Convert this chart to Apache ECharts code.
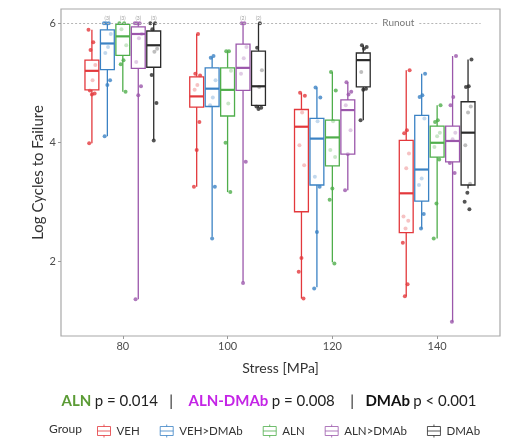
<!DOCTYPE html>
<html lang="en">
<head>
    <meta charset="UTF-8">
    <title>Cycles to failure</title>
    <script src="https://cdn.jsdelivr.net/npm/echarts@6/dist/echarts.min.js"></script>
</head>
<body style="margin:0;background:#fff">
<div id="main" style="width: 513px; height: 439px;"></div>
</body>
<script>
    // ---- data ----
    var stressLevels = [80, 100, 120, 140]
    var groupNames = ['VEH', 'VEH>DMAb', 'ALN', 'ALN>DMAb', 'DMAb']
    var yTicks = [2, 4, 6]

    // box stats per stress: [whisker low, q1, median, q3, whisker high]
    var vehBox = [[3.98, 4.88, 5.20, 5.38, 5.89], [3.25, 4.59, 4.77, 5.10, 5.82], [1.37, 2.83, 4.26, 4.55, 4.83], [1.41, 2.48, 3.14, 4.03, 5.21]]
    var vehDmabBox = [[4.10, 5.22, 5.66, 5.89, 6.0], [2.41, 4.60, 4.90, 5.25, 5.43], [1.56, 3.28, 4.06, 4.40, 4.92], [2.55, 3.01, 3.54, 4.45, 5.15]]
    var alnBox = [[4.85, 5.46, 5.78, 5.98, 6.0], [3.16, 4.44, 4.88, 5.25, 5.53], [1.98, 3.60, 4.08, 4.37, 5.18], [2.38, 3.75, 3.99, 4.27, 4.62]]
    var alnDmabBox = [[1.36, 5.24, 5.82, 5.94, 6.0], [1.65, 4.87, 5.25, 5.65, 6.0], [3.19, 3.80, 4.54, 4.71, 5.01], [0.98, 3.67, 4.02, 4.27, 5.45]]
    var dmabBox = [[4.04, 5.26, 5.63, 5.87, 6.0], [4.58, 4.62, 4.94, 5.53, 6.0], [4.37, 4.93, 5.38, 5.50, 5.63], [3.22, 3.28, 4.16, 4.68, 5.39]]

    // individual specimens (log cycles) per stress
    var vehPts = [[5.89, 5.68, 5.55, 5.30, 5.04, 4.87, 4.82, 4.80, 3.98], [5.82, 5.15, 5.12, 4.96, 4.88, 4.34, 3.87, 3.25], [4.83, 4.78, 4.50, 3.95, 3.61, 2.05, 1.82, 1.37], [5.21, 4.20, 4.15, 3.81, 3.56, 2.75, 2.68, 2.55, 2.31, 1.61, 1.41]]
    var vehDmabPts = [[6.0, 6.0, 6.0, 5.82, 5.60, 5.50, 5.04, 4.96, 4.10], [5.45, 5.42, 5.04, 4.75, 4.62, 3.25, 2.38], [4.92, 4.75, 4.35, 3.42, 3.25, 2.49, 1.54], [5.15, 4.79, 4.76, 4.40, 3.39, 3.28, 2.79, 2.55]]
    var alnPts = [[6.0, 6.0, 5.90, 5.63, 5.38, 5.31, 4.85], [5.53, 5.53, 5.20, 4.65, 3.99, 3.16], [5.18, 4.87, 4.35, 3.87, 3.75, 3.22, 3.03, 1.96], [4.62, 4.37, 4.34, 4.16, 4.10, 3.92, 3.71, 2.97, 2.38]]
    var alnDmabPts = [[6.0, 6.0, 6.0, 5.82, 5.75, 5.35, 4.94, 4.79, 1.36], [6.0, 6.0, 5.60, 5.41, 5.15, 3.67, 1.63], [5.01, 4.85, 4.80, 4.62, 4.20, 3.80, 3.19], [5.45, 4.76, 4.62, 4.16, 4.05, 3.65, 3.48, 0.98]]
    var dmabPts = [[6.0, 6.0, 5.90, 5.57, 5.52, 5.13, 4.66, 4.03], [6.0, 5.59, 5.21, 4.93, 4.60, 4.58, 4.56], [5.63, 5.60, 5.57, 5.18, 4.90, 4.88, 4.37], [5.39, 4.94, 4.93, 4.60, 4.50, 3.95, 3.30, 3.15, 3.00, 2.87]]

    // runout counts shown above boxes (null = none)
    var runoutCounts = [
        [null, null, null, null],
        ['(3)', null, null, null],
        ['(3)', null, null, null],
        ['(3)', '(2)', null, null],
        ['(3)', '(2)', null, null]
    ]
    var runoutLevel = 6

    var boxData = [vehBox, vehDmabBox, alnBox, alnDmabBox, dmabBox]
    var ptsData = [vehPts, vehDmabPts, alnPts, alnDmabPts, dmabPts]
    var colors = ['#e3383c', '#3b82c4', '#4fae4b', '#9b57ab', '#2b2b2b']

    // ---- layout helpers ----
    var dodge = 2.95      // MPa between neighbouring boxes
    var boxWidth = 2.65   // MPa
    var font = 'Lato, "Open Sans", sans-serif'

    function jitter(i) {
        return (((i * 7) % 11) - 5) * 0.13
    }

    function renderBox(params, api) {
        var x = api.value(0)
        var lo = api.coord([x, api.value(1)])
        var q1 = api.coord([x, api.value(2)])
        var md = api.coord([x, api.value(3)])
        var q3 = api.coord([x, api.value(4)])
        var hi = api.coord([x, api.value(5)])
        var w = api.size([boxWidth, 0])[0]
        var c = api.visual('color')
        return {
            type: 'group',
            children: [
                {type: 'line', shape: {x1: lo[0], y1: lo[1], x2: q1[0], y2: q1[1]}, style: {stroke: c, lineWidth: 1.3}},
                {type: 'line', shape: {x1: q3[0], y1: q3[1], x2: hi[0], y2: hi[1]}, style: {stroke: c, lineWidth: 1.3}},
                {type: 'rect', shape: {x: q3[0] - w / 2, y: q3[1], width: w, height: q1[1] - q3[1]},
                    style: {fill: 'rgba(255,255,255,0.62)', stroke: c, lineWidth: 1.3}},
                {type: 'line', shape: {x1: md[0] - w / 2, y1: md[1], x2: md[0] + w / 2, y2: md[1]}, style: {stroke: c, lineWidth: 2.2}}
            ]
        }
    }

    var series = []
    groupNames.forEach(function (name, g) {
        var off = (g - 2) * dodge
        var pts = []
        ptsData[g].forEach(function (list, s) {
            list.forEach(function (v, i) {
                pts.push([stressLevels[s] + off + jitter(i + s), v])
            })
        })
        series.push({
            name: name,
            type: 'scatter',
            z: 2,
            symbolSize: 4,
            itemStyle: {color: colors[g]},
            data: pts
        })
        series.push({
            name: name,
            type: 'custom',
            z: 3,
            itemStyle: {color: colors[g]},
            renderItem: renderBox,
            encode: {x: 0, y: [1, 2, 3, 4, 5]},
            data: boxData[g].map(function (b, s) {
                return [stressLevels[s] + off].concat(b)
            })
        })
        var lbl = []
        runoutCounts[g].forEach(function (t, s) {
            if (t) lbl.push({value: [stressLevels[s] + off, runoutLevel], name: t})
        })
        if (lbl.length) {
            series.push({
                type: 'scatter',
                z: 4,
                symbolSize: 0,
                silent: true,
                label: {show: true, position: 'top', distance: 2, formatter: '{b}', fontSize: 5, color: '#888', fontFamily: font},
                data: lbl
            })
        }
    })

    // runout reference line (broken around its label) + label
    series.push({
        type: 'scatter',
        z: 1,
        symbolSize: 0,
        silent: true,
        label: {show: true, position: 'inside', formatter: 'Runout', fontSize: 10, color: '#555', fontFamily: font},
        data: [[132.6, runoutLevel]],
        markLine: {
            silent: true,
            symbol: 'none',
            label: {show: false},
            lineStyle: {color: '#b5b5b5', type: [2, 2], width: 1},
            data: [
                [{coord: [68.6, runoutLevel]}, {coord: [128.6, runoutLevel]}],
                [{coord: [136.6, runoutLevel]}, {coord: [148.3, runoutLevel]}]
            ]
        }
    })

    var legendIcon = 'path://M7.5,0 L7.5,2 M1,2 L14,2 L14,11 L1,11 Z M1,6.5 L14,6.5 M7.5,11 L7.5,13'

    var myChart = echarts.init(document.getElementById('main'))
    var option = {
        animation: false,
        textStyle: {fontFamily: font},
        grid: {
            left: 61, right: 13, top: 9, bottom: 103,
            show: true, borderColor: '#a8a8a8', borderWidth: 1.2
        },
        xAxis: {
            type: 'value',
            min: 68.2,
            max: 152,
            name: 'Stress [MPa]',
            nameLocation: 'middle',
            nameGap: 25,
            nameTextStyle: {fontSize: 14, color: '#333', fontFamily: font},
            axisLine: {show: false},
            axisTick: {show: true, length: 3, customValues: stressLevels, lineStyle: {color: '#999'}},
            axisLabel: {customValues: stressLevels, fontSize: 11, color: '#4d4d4d', margin: 5, fontFamily: font},
            splitLine: {show: false}
        },
        yAxis: {
            type: 'value',
            min: 0.74,
            max: 6.24,
            name: 'Log Cycles to Failure',
            nameLocation: 'middle',
            nameGap: 15,
            nameMoveOverlap: false,
            nameTextStyle: {fontSize: 15, color: '#333', fontFamily: font},
            axisLine: {show: false},
            axisTick: {show: true, length: 3, customValues: yTicks, lineStyle: {color: '#999'}},
            axisLabel: {customValues: yTicks, fontSize: 11, color: '#4d4d4d', margin: 5, fontFamily: font},
            splitLine: {show: false}
        },
        legend: {
            left: 97,
            top: 424,
            padding: 0,
            itemWidth: 15,
            itemHeight: 13,
            itemGap: 20,
            textStyle: {fontSize: 11.5, color: '#333', fontFamily: font},
            data: groupNames.map(function (n, g) {
                return {name: n, icon: legendIcon, itemStyle: {color: 'rgba(0,0,0,0)', borderColor: colors[g], borderWidth: 1}}
            })
        },
        graphic: [
            {
                type: 'text', left: 49, top: 423,
                style: {text: 'Group', fontSize: 12, fill: '#333', fontFamily: font}
            },
            {
                type: 'text', x: 269, y: 394,
                style: {
                    text: '{g|ALN} {t|p = 0.014   |    }{m|ALN-DMAb} {t|p = 0.008    |   }{k|DMAb} {t|p < 0.001}',
                    align: 'center',
                    rich: {
                        g: {fontSize: 15, fontWeight: 'bold', fill: '#5b9b35', fontFamily: font},
                        m: {fontSize: 15, fontWeight: 'bold', fill: '#c424e6', fontFamily: font},
                        k: {fontSize: 15, fontWeight: 'bold', fill: '#111', fontFamily: font},
                        t: {fontSize: 15, fill: '#222', fontFamily: font}
                    }
                }
            }
        ],
        series: series
    }
    myChart.setOption(option)
</script>
</html>
